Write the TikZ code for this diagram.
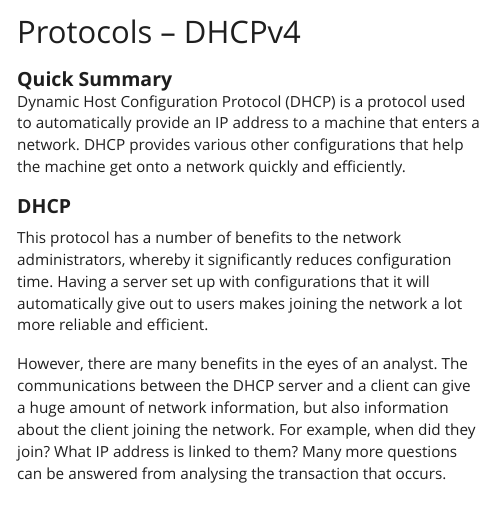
\documentclass[tikz,border=0pt]{standalone}
\usepackage{fontspec}
\setmainfont{Open Sans}
\usepackage{tikz}
\usetikzlibrary{positioning}
\definecolor{inktext}{RGB}{30,30,30}
\frenchspacing

\begin{document}
\begin{tikzpicture}[
                x=1pt,y=-1pt,
                every node/.append style={anchor=base west,inner sep=0pt,text=inktext},
                titletext/.style={font=\fontsize{31}{34}\selectfont},
                headtext/.style={font=\fontsize{19.5}{22}\selectfont\bfseries},
                bodytext/.style={font=\fontsize{15.3}{22}\selectfont}
            ]
                \useasboundingbox (0,0) rectangle (491,511);
                \node (T)  [titletext] at (17,43.3) {Protocols – DHCPv4};
                \node (H1) [headtext]  at (17,86.7) {Quick Summary};
                \node (A1) [bodytext]  at (17,107)   {Dynamic Host Configuration Protocol (DHCP) is a protocol used};
                \node (A2) [bodytext]  at (17,128.7) {to automatically provide an IP address to a machine that enters a};
                \node (A3) [bodytext]  at (17,150.7) {network. DHCP provides various other configurations that help};
                \node (A4) [bodytext]  at (17,172.7) {the machine get onto a network quickly and efficiently.};
                \node (H2) [headtext]  at (17,213.3) {DHCP};
                \node (B1) [bodytext]  at (17,243.3) {This protocol has a number of benefits to the network};
                \node (B2) [bodytext]  at (17,265)   {administrators, whereby it significantly reduces configuration};
                \node (B3) [bodytext]  at (17,287.3) {time. Having a server set up with configurations that it will};
                \node (B4) [bodytext]  at (17,309.3) {automatically give out to users makes joining the network a lot};
                \node (B5) [bodytext]  at (17,330.7) {more reliable and efficient.};
                \node (C1) [bodytext]  at (17,369.3) {However, there are many benefits in the eyes of an analyst. The};
                \node (C2) [bodytext]  at (17,391)   {communications between the DHCP server and a client can give};
                \node (C3) [bodytext]  at (17,413.3) {a huge amount of network information, but also information};
                \node (C4) [bodytext]  at (17,435)   {about the client joining the network. For example, when did they};
                \node (C5) [bodytext]  at (17,457.3) {join? What IP address is linked to them? Many more questions};
                \node (C6) [bodytext]  at (17,479)   {can be answered from analysing the transaction that occurs.};
            \end{tikzpicture}
\end{document}
